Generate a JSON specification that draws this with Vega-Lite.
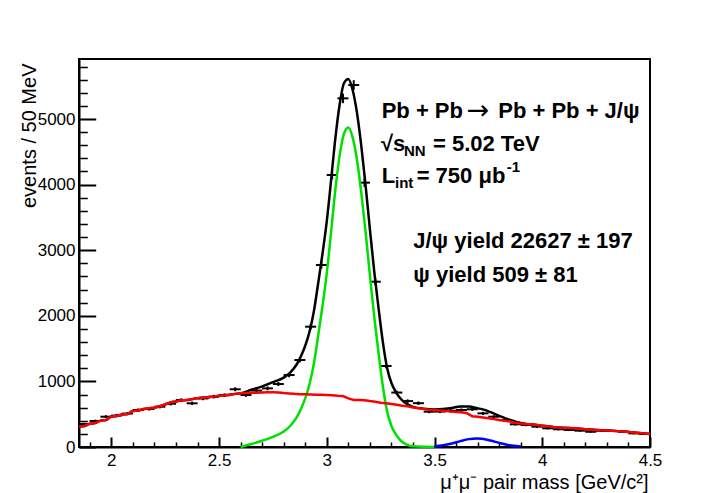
{
  "$schema": "https://vega.github.io/schema/vega-lite/v6.json",
  "width": 571,
  "height": 388,
  "autosize": {"type": "none"},
  "padding": {"left": 79, "top": 59, "right": 67, "bottom": 46},
  "background": "white",
  "config": {
    "font": "Liberation Sans",
    "view": {"stroke": "black", "strokeWidth": 2},
    "axis": {"grid": false, "labelFont": "Liberation Sans", "titleFont": "Liberation Sans", "labelColor": "black", "titleColor": "black", "domainColor": "black", "tickColor": "black"}
  },
  "datasets": {
    "counts": [
      {"m": 1.875, "n": 350, "lo": 331, "hi": 369},
      {"m": 1.925, "n": 396, "lo": 376, "hi": 416},
      {"m": 1.975, "n": 462, "lo": 440, "hi": 484},
      {"m": 2.025, "n": 480, "lo": 458, "hi": 502},
      {"m": 2.075, "n": 510, "lo": 487, "hi": 533},
      {"m": 2.125, "n": 564, "lo": 540, "hi": 588},
      {"m": 2.175, "n": 580, "lo": 556, "hi": 604},
      {"m": 2.225, "n": 614, "lo": 589, "hi": 639},
      {"m": 2.275, "n": 660, "lo": 634, "hi": 686},
      {"m": 2.325, "n": 716, "lo": 689, "hi": 743},
      {"m": 2.375, "n": 666, "lo": 640, "hi": 692},
      {"m": 2.425, "n": 740, "lo": 713, "hi": 767},
      {"m": 2.475, "n": 767, "lo": 739, "hi": 795},
      {"m": 2.525, "n": 790, "lo": 762, "hi": 818},
      {"m": 2.575, "n": 880, "lo": 850, "hi": 910},
      {"m": 2.625, "n": 793, "lo": 765, "hi": 821},
      {"m": 2.675, "n": 860, "lo": 831, "hi": 889},
      {"m": 2.725, "n": 894, "lo": 864, "hi": 924},
      {"m": 2.775, "n": 960, "lo": 929, "hi": 991},
      {"m": 2.825, "n": 1097, "lo": 1064, "hi": 1130},
      {"m": 2.875, "n": 1326, "lo": 1290, "hi": 1362},
      {"m": 2.925, "n": 1834, "lo": 1791, "hi": 1877},
      {"m": 2.975, "n": 2774, "lo": 2721, "hi": 2827},
      {"m": 3.025, "n": 4146, "lo": 4082, "hi": 4210},
      {"m": 3.075, "n": 5315, "lo": 5242, "hi": 5388},
      {"m": 3.125, "n": 5518, "lo": 5444, "hi": 5592},
      {"m": 3.175, "n": 4030, "lo": 3967, "hi": 4094},
      {"m": 3.225, "n": 2520, "lo": 2470, "hi": 2570},
      {"m": 3.275, "n": 1235, "lo": 1200, "hi": 1270},
      {"m": 3.325, "n": 830, "lo": 801, "hi": 859},
      {"m": 3.375, "n": 700, "lo": 674, "hi": 726},
      {"m": 3.425, "n": 668, "lo": 642, "hi": 694},
      {"m": 3.475, "n": 538, "lo": 515, "hi": 561},
      {"m": 3.525, "n": 540, "lo": 517, "hi": 563},
      {"m": 3.575, "n": 553, "lo": 530, "hi": 577},
      {"m": 3.625, "n": 564, "lo": 540, "hi": 588},
      {"m": 3.675, "n": 575, "lo": 551, "hi": 599},
      {"m": 3.725, "n": 513, "lo": 490, "hi": 536},
      {"m": 3.775, "n": 462, "lo": 441, "hi": 483},
      {"m": 3.825, "n": 411, "lo": 391, "hi": 431},
      {"m": 3.875, "n": 346, "lo": 327, "hi": 365},
      {"m": 3.925, "n": 335, "lo": 317, "hi": 353},
      {"m": 3.975, "n": 310, "lo": 292, "hi": 328},
      {"m": 4.025, "n": 285, "lo": 268, "hi": 302},
      {"m": 4.075, "n": 270, "lo": 254, "hi": 286},
      {"m": 4.125, "n": 259, "lo": 243, "hi": 275},
      {"m": 4.175, "n": 249, "lo": 233, "hi": 265},
      {"m": 4.225, "n": 234, "lo": 219, "hi": 249},
      {"m": 4.275, "n": 249, "lo": 233, "hi": 265},
      {"m": 4.325, "n": 244, "lo": 228, "hi": 260},
      {"m": 4.375, "n": 234, "lo": 219, "hi": 249},
      {"m": 4.425, "n": 208, "lo": 194, "hi": 222},
      {"m": 4.475, "n": 198, "lo": 184, "hi": 212}
    ],
    "bkg": [
      {"m": 1.85, "v": 310}, {"m": 1.875, "v": 318}, {"m": 1.9, "v": 355}, {"m": 1.925, "v": 365},
      {"m": 1.95, "v": 402}, {"m": 1.975, "v": 410}, {"m": 2.0, "v": 465}, {"m": 2.025, "v": 472},
      {"m": 2.05, "v": 495}, {"m": 2.075, "v": 503}, {"m": 2.1, "v": 548}, {"m": 2.125, "v": 556},
      {"m": 2.15, "v": 578}, {"m": 2.175, "v": 592}, {"m": 2.2, "v": 600}, {"m": 2.225, "v": 622},
      {"m": 2.25, "v": 648}, {"m": 2.275, "v": 680}, {"m": 2.3, "v": 695}, {"m": 2.325, "v": 712},
      {"m": 2.35, "v": 716}, {"m": 2.375, "v": 730}, {"m": 2.4, "v": 745}, {"m": 2.425, "v": 752},
      {"m": 2.45, "v": 760}, {"m": 2.475, "v": 768}, {"m": 2.5, "v": 782}, {"m": 2.525, "v": 790},
      {"m": 2.55, "v": 798}, {"m": 2.575, "v": 810}, {"m": 2.6, "v": 818}, {"m": 2.625, "v": 822},
      {"m": 2.65, "v": 828}, {"m": 2.675, "v": 826}, {"m": 2.7, "v": 830}, {"m": 2.725, "v": 833},
      {"m": 2.75, "v": 834}, {"m": 2.775, "v": 830}, {"m": 2.8, "v": 822}, {"m": 2.825, "v": 816},
      {"m": 2.85, "v": 810}, {"m": 2.875, "v": 806}, {"m": 2.9, "v": 803}, {"m": 2.925, "v": 800},
      {"m": 2.95, "v": 797}, {"m": 2.975, "v": 795}, {"m": 3.0, "v": 793}, {"m": 3.025, "v": 788},
      {"m": 3.05, "v": 781}, {"m": 3.075, "v": 776}, {"m": 3.1, "v": 742}, {"m": 3.125, "v": 718},
      {"m": 3.15, "v": 716}, {"m": 3.175, "v": 712}, {"m": 3.2, "v": 700}, {"m": 3.225, "v": 690},
      {"m": 3.25, "v": 676}, {"m": 3.275, "v": 668}, {"m": 3.3, "v": 655}, {"m": 3.325, "v": 645},
      {"m": 3.35, "v": 630}, {"m": 3.375, "v": 622}, {"m": 3.4, "v": 602}, {"m": 3.425, "v": 592},
      {"m": 3.45, "v": 580}, {"m": 3.475, "v": 568}, {"m": 3.5, "v": 562}, {"m": 3.525, "v": 556},
      {"m": 3.55, "v": 548}, {"m": 3.575, "v": 540}, {"m": 3.6, "v": 535}, {"m": 3.625, "v": 528},
      {"m": 3.65, "v": 515}, {"m": 3.675, "v": 470}, {"m": 3.7, "v": 462}, {"m": 3.725, "v": 450},
      {"m": 3.75, "v": 438}, {"m": 3.775, "v": 425}, {"m": 3.8, "v": 411}, {"m": 3.825, "v": 400},
      {"m": 3.85, "v": 388}, {"m": 3.875, "v": 370}, {"m": 3.9, "v": 360}, {"m": 3.925, "v": 350},
      {"m": 3.95, "v": 346}, {"m": 3.975, "v": 335}, {"m": 4.0, "v": 325}, {"m": 4.025, "v": 315},
      {"m": 4.05, "v": 305}, {"m": 4.075, "v": 298}, {"m": 4.1, "v": 292}, {"m": 4.125, "v": 288},
      {"m": 4.15, "v": 285}, {"m": 4.175, "v": 280}, {"m": 4.2, "v": 272}, {"m": 4.225, "v": 265},
      {"m": 4.25, "v": 260}, {"m": 4.275, "v": 255}, {"m": 4.3, "v": 252}, {"m": 4.325, "v": 249},
      {"m": 4.35, "v": 242}, {"m": 4.375, "v": 236}, {"m": 4.4, "v": 228}, {"m": 4.425, "v": 220},
      {"m": 4.45, "v": 212}, {"m": 4.475, "v": 205}, {"m": 4.5, "v": 198}
    ],
    "total": [
      {"m": 1.85, "v": 310}, {"m": 1.875, "v": 318}, {"m": 1.9, "v": 355}, {"m": 1.925, "v": 365},
      {"m": 1.95, "v": 402}, {"m": 1.975, "v": 410}, {"m": 2.0, "v": 465}, {"m": 2.025, "v": 472},
      {"m": 2.05, "v": 495}, {"m": 2.075, "v": 503}, {"m": 2.1, "v": 548}, {"m": 2.125, "v": 556},
      {"m": 2.15, "v": 578}, {"m": 2.175, "v": 592}, {"m": 2.2, "v": 600}, {"m": 2.225, "v": 622},
      {"m": 2.25, "v": 648}, {"m": 2.275, "v": 680}, {"m": 2.3, "v": 695}, {"m": 2.325, "v": 712},
      {"m": 2.35, "v": 716}, {"m": 2.375, "v": 730}, {"m": 2.4, "v": 745}, {"m": 2.425, "v": 752},
      {"m": 2.45, "v": 760}, {"m": 2.475, "v": 768}, {"m": 2.5, "v": 782}, {"m": 2.525, "v": 790},
      {"m": 2.55, "v": 798}, {"m": 2.575, "v": 810},
      {"m": 2.6, "v": 818}, {"m": 2.65, "v": 873}, {"m": 2.7, "v": 925}, {"m": 2.75, "v": 989},
      {"m": 2.8, "v": 1057}, {"m": 2.83, "v": 1135}, {"m": 2.86, "v": 1258}, {"m": 2.88, "v": 1385},
      {"m": 2.9, "v": 1543}, {"m": 2.92, "v": 1761}, {"m": 2.94, "v": 2068}, {"m": 2.96, "v": 2496},
      {"m": 2.98, "v": 2945}, {"m": 3.0, "v": 3443}, {"m": 3.02, "v": 4069}, {"m": 3.04, "v": 4714},
      {"m": 3.06, "v": 5229}, {"m": 3.08, "v": 5549}, {"m": 3.1, "v": 5612}, {"m": 3.12, "v": 5443},
      {"m": 3.14, "v": 5097}, {"m": 3.16, "v": 4594}, {"m": 3.18, "v": 3990}, {"m": 3.2, "v": 3320},
      {"m": 3.22, "v": 2682}, {"m": 3.24, "v": 2122}, {"m": 3.26, "v": 1603}, {"m": 3.28, "v": 1205},
      {"m": 3.3, "v": 975}, {"m": 3.32, "v": 842}, {"m": 3.34, "v": 746}, {"m": 3.36, "v": 682},
      {"m": 3.38, "v": 643}, {"m": 3.4, "v": 612}, {"m": 3.45, "v": 582}, {"m": 3.5, "v": 572},
      {"m": 3.54, "v": 578}, {"m": 3.58, "v": 593}, {"m": 3.62, "v": 619}, {"m": 3.66, "v": 617},
      {"m": 3.695, "v": 594}, {"m": 3.72, "v": 577}, {"m": 3.76, "v": 531}, {"m": 3.8, "v": 474},
      {"m": 3.84, "v": 425}, {"m": 3.88, "v": 382}, {"m": 3.9, "v": 368},
      {"m": 3.925, "v": 350}, {"m": 3.95, "v": 346}, {"m": 3.975, "v": 335}, {"m": 4.0, "v": 325},
      {"m": 4.025, "v": 315}, {"m": 4.05, "v": 305}, {"m": 4.075, "v": 298}, {"m": 4.1, "v": 292},
      {"m": 4.125, "v": 288}, {"m": 4.15, "v": 285}, {"m": 4.175, "v": 280}, {"m": 4.2, "v": 272},
      {"m": 4.225, "v": 265}, {"m": 4.25, "v": 260}, {"m": 4.275, "v": 255}, {"m": 4.3, "v": 252},
      {"m": 4.325, "v": 249}, {"m": 4.35, "v": 242}, {"m": 4.375, "v": 236}, {"m": 4.4, "v": 228},
      {"m": 4.425, "v": 220}, {"m": 4.45, "v": 212}, {"m": 4.475, "v": 205}, {"m": 4.5, "v": 198}
    ],
    "jpsi": [
      {"m": 2.6, "v": 0}, {"m": 2.65, "v": 45}, {"m": 2.7, "v": 95}, {"m": 2.75, "v": 155},
      {"m": 2.8, "v": 235}, {"m": 2.83, "v": 320}, {"m": 2.86, "v": 450}, {"m": 2.88, "v": 580},
      {"m": 2.9, "v": 740}, {"m": 2.92, "v": 960}, {"m": 2.94, "v": 1270}, {"m": 2.96, "v": 1700},
      {"m": 2.98, "v": 2150}, {"m": 3.0, "v": 2650}, {"m": 3.02, "v": 3280}, {"m": 3.04, "v": 3930},
      {"m": 3.06, "v": 4450}, {"m": 3.08, "v": 4780}, {"m": 3.1, "v": 4870}, {"m": 3.12, "v": 4720},
      {"m": 3.14, "v": 4380}, {"m": 3.16, "v": 3880}, {"m": 3.18, "v": 3280}, {"m": 3.2, "v": 2620},
      {"m": 3.22, "v": 1990}, {"m": 3.24, "v": 1440}, {"m": 3.26, "v": 930}, {"m": 3.28, "v": 540},
      {"m": 3.3, "v": 320}, {"m": 3.32, "v": 195}, {"m": 3.34, "v": 110}, {"m": 3.36, "v": 55},
      {"m": 3.38, "v": 25}, {"m": 3.4, "v": 10}, {"m": 3.45, "v": 2}, {"m": 3.5, "v": 0}
    ],
    "psi2s": [
      {"m": 3.5, "v": 10}, {"m": 3.54, "v": 27}, {"m": 3.58, "v": 54}, {"m": 3.62, "v": 90},
      {"m": 3.66, "v": 120}, {"m": 3.695, "v": 130}, {"m": 3.72, "v": 125}, {"m": 3.76, "v": 98},
      {"m": 3.8, "v": 63}, {"m": 3.84, "v": 32}, {"m": 3.88, "v": 14}, {"m": 3.9, "v": 8}
    ],
    "notes": [
      {"m": 3.2546, "v": 5020, "t": "Pb + Pb"},
      {"m": 3.7957, "v": 5020, "t": "Pb + Pb + J/ψ"},
      {"m": 3.251, "v": 4512, "t": "√s"},
      {"m": 3.4927, "v": 4512, "t": "= 5.02 TeV"},
      {"m": 3.2546, "v": 4029, "t": "L"},
      {"m": 3.417, "v": 4029, "t": "= 750 μb"},
      {"m": 3.4013, "v": 3033, "t": "J/ψ yield 22627 ± 197"},
      {"m": 3.4013, "v": 2520, "t": "ψ yield 509 ± 81"}
    ],
    "arrows": [
      {"m": 3.649, "v": 5000, "t": "→"}
    ],
    "scripts": [
      {"m": 3.358, "v": 4436, "t": "NN"},
      {"m": 3.3164, "v": 3943, "t": "int"},
      {"m": 3.8347, "v": 4197, "t": "-1"}
    ]
  },
  "layer": [
    {
      "data": {"name": "counts"},
      "mark": {"type": "rule", "color": "black", "strokeWidth": 2},
      "encoding": {
        "x": {"field": "m", "type": "quantitative", "scale": {"domain": [1.85, 4.5], "nice": false, "zero": false},
          "axis": {"orient": "bottom", "values": [1.9, 2.1, 2.2, 2.3, 2.4, 2.6, 2.7, 2.8, 2.9, 3.1, 3.2, 3.3, 3.4, 3.6, 3.7, 3.8, 3.9, 4.1, 4.2, 4.3, 4.4],
            "tickSize": -5, "tickWidth": 1.5, "labels": false, "domain": false, "title": null}},
        "y": {"field": "lo", "type": "quantitative", "scale": {"domain": [0, 5915], "nice": false, "zero": false},
          "axis": {"orient": "left", "values": [200, 400, 600, 800, 1200, 1400, 1600, 1800, 2200, 2400, 2600, 2800, 3200, 3400, 3600, 3800, 4200, 4400, 4600, 4800, 5200, 5400, 5600, 5800],
            "tickSize": -8.3, "tickWidth": 1.5, "labels": false, "domain": false, "title": null}},
        "y2": {"field": "hi"}
      }
    },
    {
      "data": {"name": "counts"},
      "mark": {"type": "tick", "orient": "horizontal", "color": "black", "size": 11, "thickness": 2, "opacity": 1},
      "encoding": {
        "x": {"field": "m", "type": "quantitative",
          "axis": {"orient": "bottom", "values": [2, 2.5, 3, 3.5, 4, 4.5], "format": "~g", "tickSize": -10, "tickWidth": 2,
            "domainWidth": 2, "labelFontSize": 17, "labelPadding": 15, "labelFlush": false, "labelOverlap": false, "labelBound": false,
            "title": "μ⁺μ⁻ pair mass [GeV/c²]", "titleFontSize": 20, "titleFontWeight": "normal",
            "titleX": 569, "titleY": 41.5, "titleAlign": "right", "titleBaseline": "alphabetic", "titleAnchor": null}},
        "y": {"field": "n", "type": "quantitative",
          "axis": {"orient": "left", "values": [0, 1000, 2000, 3000, 4000, 5000], "format": "d", "tickSize": -16.7, "tickWidth": 2,
            "domainWidth": 2, "labelFontSize": 17, "labelPadding": 20.7, "labelFlush": false, "labelOverlap": false, "labelBound": false,
            "title": "events / 50 MeV", "titleFontSize": 20, "titleFontWeight": "normal", "titleAngle": 270,
            "titleX": -44, "titleY": 4, "titleAlign": "right", "titleBaseline": "alphabetic", "titleAnchor": null}}
      }
    },
    {
      "data": {"name": "total"},
      "mark": {"type": "line", "color": "black", "strokeWidth": 2.5, "interpolate": "monotone"},
      "encoding": {
        "x": {"field": "m", "type": "quantitative", "axis": null},
        "y": {"field": "v", "type": "quantitative", "axis": null}
      }
    },
    {
      "data": {"name": "jpsi"},
      "mark": {"type": "line", "color": "#00e000", "strokeWidth": 2.5, "interpolate": "monotone"},
      "encoding": {
        "x": {"field": "m", "type": "quantitative", "axis": null},
        "y": {"field": "v", "type": "quantitative", "axis": null}
      }
    },
    {
      "data": {"name": "psi2s"},
      "mark": {"type": "line", "color": "#0000ff", "strokeWidth": 2.5, "interpolate": "monotone"},
      "encoding": {
        "x": {"field": "m", "type": "quantitative", "axis": null},
        "y": {"field": "v", "type": "quantitative", "axis": null}
      }
    },
    {
      "data": {"name": "bkg"},
      "mark": {"type": "line", "color": "#ff0000", "strokeWidth": 2.5},
      "encoding": {
        "x": {"field": "m", "type": "quantitative", "axis": null},
        "y": {"field": "v", "type": "quantitative", "axis": null}
      }
    },
    {
      "data": {"name": "notes"},
      "mark": {"type": "text", "align": "left", "baseline": "alphabetic", "fontSize": 22, "fontWeight": "bold", "font": "Liberation Sans", "color": "black"},
      "encoding": {
        "x": {"field": "m", "type": "quantitative", "axis": null},
        "y": {"field": "v", "type": "quantitative", "axis": null},
        "text": {"field": "t"}
      }
    },
    {
      "data": {"name": "arrows"},
      "mark": {"type": "text", "align": "left", "baseline": "alphabetic", "fontSize": 27, "fontWeight": "normal", "font": "DejaVu Sans", "color": "black"},
      "encoding": {
        "x": {"field": "m", "type": "quantitative", "axis": null},
        "y": {"field": "v", "type": "quantitative", "axis": null},
        "text": {"field": "t"}
      }
    },
    {
      "data": {"name": "scripts"},
      "mark": {"type": "text", "align": "left", "baseline": "alphabetic", "fontSize": 15, "fontWeight": "bold", "font": "Liberation Sans", "color": "black"},
      "encoding": {
        "x": {"field": "m", "type": "quantitative", "axis": null},
        "y": {"field": "v", "type": "quantitative", "axis": null},
        "text": {"field": "t"}
      }
    }
  ],
  "resolve": {"axis": {"x": "independent", "y": "independent"}}
}
